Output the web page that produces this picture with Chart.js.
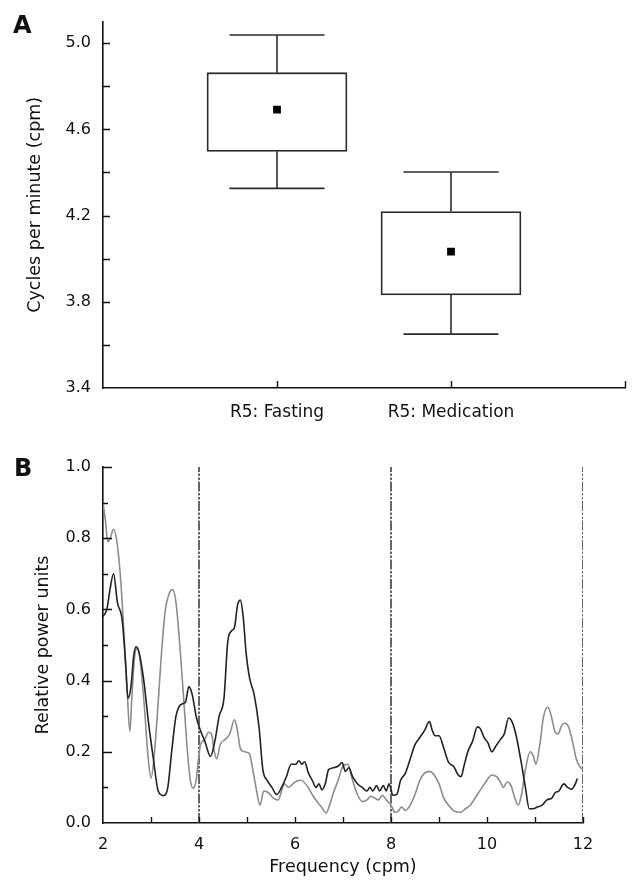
<!DOCTYPE html>
<html>
<head>
<meta charset="utf-8">
<script src="https://cdn.jsdelivr.net/npm/chart.js@4.4.0/dist/chart.umd.min.js"></script>
<style>
  body { margin: 0; background: #fff; }
  #wrap { position: relative; width: 642px; height: 886px; font-family: "DejaVu Sans", sans-serif; color: #111; }
  canvas { position: absolute; left: 0; }
  .panel { position: absolute; font-weight: bold; font-size: 24px; line-height: 1; }
</style>
</head>
<body>
<div id="wrap">
  <canvas id="boxChart" width="642" height="440" style="top:0"></canvas>
  <canvas id="specChart" width="642" height="446" style="top:440px"></canvas>
  <div class="panel" style="left:13px;top:13px">A</div>
  <div class="panel" style="left:14px;top:456px">B</div>
</div>
<script>
// --- panel A: rhythm (cpm) per condition
const groups = ['R5: Fasting', 'R5: Medication'];
const whiskerLow  = [4.326, 3.65];
const boxLow      = [4.498, 3.832];
const boxHigh     = [4.863, 4.219];
const whiskerHigh = [5.038, 4.402];
const meanVals    = [4.692, 4.033];
const cpmTicks = [3.4, 3.6, 3.8, 4.0, 4.2, 4.4, 4.6, 4.8, 5.0];

// --- panel B: power spectra
const freqDark = [2.0, 2.08, 2.15, 2.22, 2.3, 2.4, 2.47, 2.52, 2.58, 2.64, 2.69, 2.75, 2.85, 2.95, 3.05, 3.15, 3.26, 3.35, 3.43, 3.52,
  3.6, 3.66, 3.72, 3.79, 3.86, 3.94, 4.03, 4.12, 4.24, 4.33, 4.42, 4.52, 4.6, 4.68, 4.74, 4.8, 4.86, 4.92, 4.98, 5.05,
  5.15, 5.25, 5.33, 5.42, 5.52, 5.62, 5.72, 5.82, 5.92, 6.02, 6.08, 6.14, 6.2, 6.28, 6.36, 6.44, 6.5, 6.56, 6.63, 6.7,
  6.8, 6.9, 6.98, 7.05, 7.12, 7.2, 7.3, 7.4, 7.5, 7.56, 7.62, 7.7, 7.76, 7.84, 7.9, 7.96, 8.04, 8.12, 8.2, 8.3,
  8.4, 8.5, 8.6, 8.7, 8.8, 8.86, 8.92, 9.0, 9.1, 9.2, 9.3, 9.4, 9.46, 9.52, 9.6, 9.7, 9.8, 9.86, 9.94, 10.02,
  10.1, 10.18, 10.28, 10.36, 10.45, 10.52, 10.6, 10.7, 10.8, 10.88, 10.96, 11.05, 11.15, 11.25, 11.35, 11.42, 11.5, 11.6, 11.68, 11.76,
  11.84, 11.88];
const powerDark = [0.58, 0.6, 0.66, 0.70, 0.62, 0.57, 0.45, 0.35, 0.38, 0.47, 0.495, 0.48, 0.4, 0.28, 0.18, 0.09, 0.077, 0.1, 0.2, 0.3,
  0.33, 0.335, 0.34, 0.383, 0.36, 0.3, 0.26, 0.23, 0.187, 0.23, 0.3, 0.35, 0.51, 0.54, 0.55, 0.61, 0.626, 0.58, 0.48, 0.41,
  0.36, 0.27, 0.15, 0.12, 0.1, 0.08, 0.1, 0.13, 0.165, 0.165, 0.175, 0.165, 0.172, 0.14, 0.12, 0.1, 0.11, 0.093, 0.11, 0.15,
  0.155, 0.16, 0.17, 0.145, 0.155, 0.13, 0.11, 0.1, 0.09, 0.1, 0.09, 0.105, 0.09, 0.105, 0.09, 0.11, 0.078, 0.08, 0.12, 0.14,
  0.18, 0.22, 0.24, 0.26, 0.285, 0.26, 0.245, 0.245, 0.21, 0.17, 0.16, 0.135, 0.13, 0.16, 0.2, 0.23, 0.27, 0.265, 0.24, 0.225,
  0.2, 0.215, 0.235, 0.25, 0.295, 0.285, 0.25, 0.18, 0.1, 0.04, 0.04, 0.045, 0.05, 0.065, 0.07, 0.085, 0.09, 0.11, 0.1, 0.095,
  0.11, 0.125];
const freqGray = [2.0, 2.05, 2.1, 2.15, 2.22, 2.3, 2.37, 2.45, 2.5, 2.56, 2.6, 2.66, 2.71, 2.78, 2.86, 2.93, 3.0, 3.06, 3.13, 3.22,
  3.3, 3.38, 3.45, 3.52, 3.6, 3.68, 3.76, 3.82, 3.88, 3.94, 3.99, 4.03, 4.12, 4.2, 4.26, 4.32, 4.37, 4.44, 4.55, 4.64,
  4.74, 4.8, 4.86, 4.95, 5.05, 5.12, 5.2, 5.27, 5.35, 5.45, 5.55, 5.65, 5.72, 5.78, 5.86, 6.0, 6.12, 6.25, 6.38, 6.46,
  6.55, 6.65, 6.72, 6.8, 6.9, 7.0, 7.1, 7.2, 7.3, 7.4, 7.5, 7.58, 7.66, 7.74, 7.82, 7.9, 8.0, 8.08, 8.16, 8.22,
  8.3, 8.4, 8.5, 8.6, 8.7, 8.8, 8.9, 9.0, 9.1, 9.2, 9.3, 9.45, 9.55, 9.65, 9.8, 9.95, 10.1, 10.2, 10.28, 10.34,
  10.42, 10.5, 10.58, 10.65, 10.72, 10.8, 10.9, 10.96, 11.02, 11.1, 11.18, 11.27, 11.34, 11.42, 11.48, 11.56, 11.62, 11.7, 11.78, 11.86,
  11.95, 12.0];
const powerGray = [0.9, 0.85, 0.79, 0.8, 0.825, 0.78, 0.68, 0.5, 0.38, 0.257, 0.35, 0.47, 0.49, 0.45, 0.33, 0.2, 0.126, 0.18, 0.3, 0.48,
  0.6, 0.645, 0.656, 0.62, 0.5, 0.35, 0.2, 0.12, 0.098, 0.12, 0.18, 0.22, 0.235, 0.255, 0.25, 0.2, 0.18, 0.22, 0.235, 0.25,
  0.29, 0.26, 0.21, 0.2, 0.195, 0.15, 0.09, 0.05, 0.09, 0.085, 0.07, 0.065, 0.09, 0.11, 0.1, 0.115, 0.12, 0.105, 0.075, 0.06,
  0.045, 0.028, 0.05, 0.085, 0.12, 0.16, 0.165, 0.12, 0.08, 0.06, 0.065, 0.075, 0.07, 0.065, 0.078, 0.065, 0.05, 0.03, 0.035, 0.045,
  0.035, 0.05, 0.08, 0.12, 0.14, 0.145, 0.135, 0.11, 0.07, 0.05, 0.035, 0.03, 0.04, 0.05, 0.08, 0.11, 0.135, 0.13, 0.115, 0.1,
  0.115, 0.105, 0.07, 0.05, 0.08, 0.15, 0.2, 0.19, 0.165, 0.22, 0.3, 0.325, 0.3, 0.255, 0.25, 0.275, 0.28, 0.27, 0.23, 0.18,
  0.155, 0.15];
const bandEdges = [4, 8, 12];

const ink = '#111';
const tickFont = { family: 'DejaVu Sans', size: 16 };
const labelFont = { family: 'DejaVu Sans', size: 17 };
const titleFont = { family: 'DejaVu Sans', size: 17.5 };

// tick marks pointing into the plot, like the original figure
const innerTicks = {
  id: 'innerTicks',
  afterDraw(chart, args, opts) {
    const ctx = chart.ctx, a = chart.chartArea;
    const sx = chart.scales.x, sy = chart.scales.y;
    ctx.save();
    ctx.strokeStyle = ink;
    ctx.lineWidth = 1.4;
    ctx.beginPath();
    sy.ticks.forEach(t => {
      if (t.value <= sy.min) return;
      const y = Math.round(sy.getPixelForValue(t.value)) + 0.5;
      const len = t.label !== '' ? opts.y[0] : opts.y[1];
      ctx.moveTo(a.left, y); ctx.lineTo(a.left + len, y);
    });
    sx.ticks.forEach(t => {
      if (t.value <= sx.min) return;
      const x = Math.round(sx.getPixelForValue(t.value)) + 0.5;
      const len = t.label !== '' ? opts.x[0] : opts.x[1];
      ctx.moveTo(x, a.bottom); ctx.lineTo(x, a.bottom - len);
    });
    ctx.stroke();
    ctx.restore();
  }
};

function fixWidth(w) { return s => { s.width = w; }; }
function fixHeight(h) { return s => { s.height = h; }; }

// ---------- chart A
const boxSets = [];
boxSets.push({
  type: 'scatter',
  data: meanVals.map((v, i) => ({ x: i + 1, y: v })),
  pointStyle: 'rect', pointRadius: 5.5, pointHoverRadius: 5.5,
  backgroundColor: '#000', borderColor: '#000', borderWidth: 0
});
boxSets.push({
  type: 'bar',
  data: boxLow.map((v, i) => ({ x: i + 1, y: [v, boxHigh[i]] })),
  backgroundColor: '#fff', borderColor: '#2a2a2a', borderWidth: 1.8,
  borderSkipped: false, barThickness: 140
});
groups.forEach((g, i) => {
  const x = i + 1, cap = 0.273;
  const segs = [
    [[x, boxHigh[i]], [x, whiskerHigh[i]]],
    [[x, whiskerLow[i]], [x, boxLow[i]]],
    [[x - cap, whiskerHigh[i]], [x + cap, whiskerHigh[i]]],
    [[x - cap, whiskerLow[i]], [x + cap, whiskerLow[i]]]
  ];
  segs.forEach(s => boxSets.push({
    type: 'line',
    data: s.map(p => ({ x: p[0], y: p[1] })),
    borderColor: '#2a2a2a', borderWidth: 1.6, pointRadius: 0, fill: false
  }));
});

new Chart(document.getElementById('boxChart'), {
  type: 'bar',
  data: { datasets: boxSets },
  plugins: [innerTicks],
  options: {
    responsive: false,
    animation: false,
    layout: { padding: { top: 10, right: 17, left: 0, bottom: 0 } },
    plugins: { legend: { display: false }, tooltip: { enabled: false }, innerTicks: { x: [7, 7], y: [7, 7] } },
    scales: {
      x: {
        type: 'linear', min: 0, max: 3, offset: false,
        afterBuildTicks: s => { s.ticks = [0, 1, 2, 3].map(v => ({ value: v })); },
        afterFit: fixHeight(52),
        grid: { drawOnChartArea: false, drawTicks: false },
        border: { display: true, color: ink, width: 1.6 },
        ticks: { color: ink, font: labelFont, padding: 14, maxRotation: 0, autoSkip: false,
          callback: v => (v >= 1 && v <= groups.length) ? groups[v - 1] : '' }
      },
      y: {
        min: 3.4, max: 5.1,
        afterBuildTicks: s => { s.ticks = cpmTicks.map(v => ({ value: v })); },
        afterFit: fixWidth(103),
        grid: { drawOnChartArea: false, drawTicks: false },
        border: { display: true, color: ink, width: 1.6 },
        ticks: { color: ink, font: tickFont, padding: 12, autoSkip: false,
          callback: v => Math.round((v - 3.4) * 10) % 4 === 0 ? v.toFixed(1) : '' },
        title: { display: true, text: 'Cycles per minute (cpm)', color: ink, font: titleFont, padding: { top: 25, bottom: 0 } }
      }
    }
  }
});

// ---------- chart B
const specSets = [
  {
    data: freqDark.map((f, i) => ({ x: f, y: powerDark[i] })),
    borderColor: '#222', borderWidth: 1.6, pointRadius: 0,
    tension: 0.4, cubicInterpolationMode: 'monotone', fill: false
  },
  {
    data: freqGray.map((f, i) => ({ x: f, y: powerGray[i] })),
    borderColor: '#8c8c8c', borderWidth: 1.6, pointRadius: 0,
    tension: 0.4, cubicInterpolationMode: 'monotone', fill: false
  }
];
bandEdges.forEach(f => specSets.push({
  data: [{ x: f, y: 0 }, { x: f, y: 1 }],
  borderColor: '#555', borderWidth: 1.8, borderDash: [10, 1.5, 2.5, 1.5, 2.5, 1.5],
  pointRadius: 0, fill: false
}));

new Chart(document.getElementById('specChart'), {
  type: 'line',
  data: { datasets: specSets },
  plugins: [innerTicks],
  options: {
    responsive: false,
    animation: false,
    layout: { padding: { top: 27, right: 59, left: 0, bottom: 0 } },
    plugins: { legend: { display: false }, tooltip: { enabled: false }, innerTicks: { x: [6, 6], y: [9, 5] } },
    scales: {
      x: {
        type: 'linear', min: 2, max: 12,
        afterBuildTicks: s => { const t = []; for (let v = 2; v <= 12; v++) t.push({ value: v }); s.ticks = t; },
        afterFit: fixHeight(63),
        grid: { drawOnChartArea: false, drawTicks: false },
        border: { display: true, color: ink, width: 1.6 },
        ticks: { color: ink, font: tickFont, padding: 12, maxRotation: 0, autoSkip: false,
          callback: v => v % 2 === 0 ? String(v) : '' },
        title: { display: true, text: 'Frequency (cpm)', color: ink, font: titleFont, padding: { top: 0, bottom: 8 } }
      },
      y: {
        min: 0, max: 1,
        afterBuildTicks: s => { const t = []; for (let k = 0; k <= 10; k++) t.push({ value: k / 10 }); s.ticks = t; },
        afterFit: fixWidth(103),
        grid: { drawOnChartArea: false, drawTicks: false },
        border: { display: true, color: ink, width: 1.6 },
        ticks: { color: ink, font: tickFont, padding: 12, autoSkip: false,
          callback: v => Math.round(v * 10) % 2 === 0 ? v.toFixed(1) : '' },
        title: { display: true, text: 'Relative power units', color: ink, font: titleFont, padding: { top: 33, bottom: 0 } }
      }
    }
  }
});
</script>
</body>
</html>
